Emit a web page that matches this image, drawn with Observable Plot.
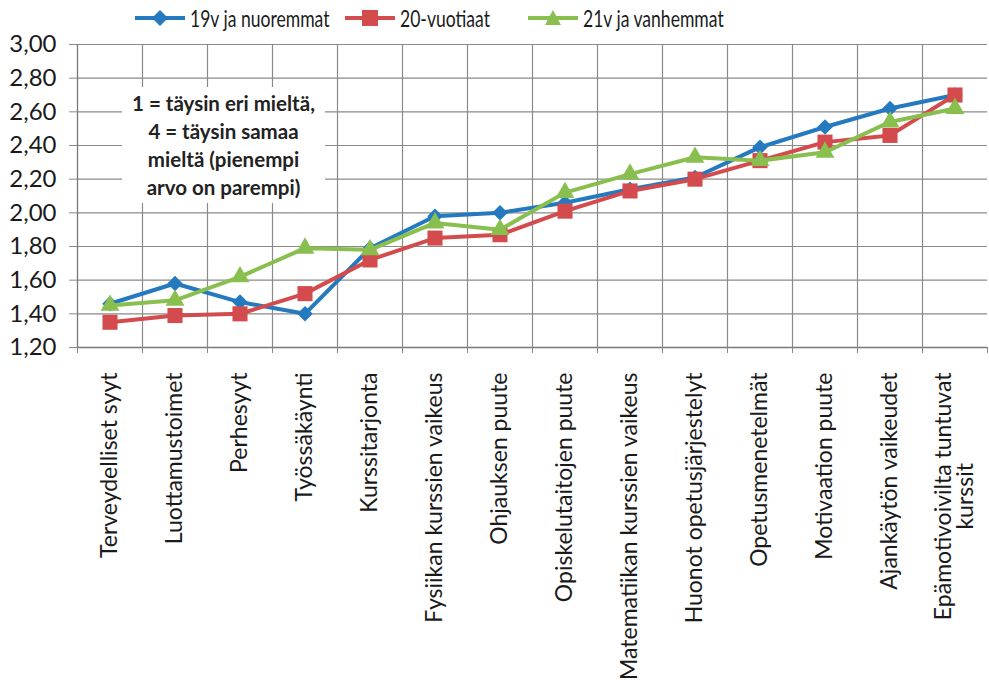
<!DOCTYPE html>
<html>
<head>
<meta charset="utf-8">
<script src="https://cdn.jsdelivr.net/npm/d3@7"></script>
<script src="https://cdn.jsdelivr.net/npm/@observablehq/plot@0.6"></script>
<style>
  html, body { margin: 0; padding: 0; background: #fff; overflow: hidden; }
  body { font-family: Lato, "Open Sans", sans-serif; color: #1a1a1a; width: 989px; height: 697px; position: relative; }
  #legend { height: 36px; position: relative; font-size: 22.5px; }
  .item { position: absolute; top: 0; height: 36px; display: flex; align-items: center; white-space: nowrap; }
  .item svg { margin-right: 5px; flex: none; }
  .item span { display: inline-block; transform: scaleX(0.78); transform-origin: left center; }
  #note { position: absolute; left: 122px; top: 87px; width: 203px; height: 116px; background: #fff;
          text-align: center; font-size: 20.5px; font-weight: 700; line-height: 28px; padding-top: 2px; box-sizing: border-box; color: #222; white-space: nowrap; }
</style>
</head>
<body>
<div id="legend"></div>
<div id="chart"></div>
<div id="note"></div>
<script>
const categories = ["Terveydelliset syyt","Luottamustoimet","Perhesyyt","Työssäkäynti","Kurssitarjonta","Fysiikan kurssien vaikeus","Ohjauksen puute","Opiskelutaitojen puute","Matematiikan kurssien vaikeus","Huonot opetusjärjestelyt","Opetusmenetelmät","Motivaation puute","Ajankäytön vaikeudet","Epämotivoivilta tuntuvat\nkurssit"];
const seriesNames = ["19v ja nuoremmat","20-vuotiaat","21v ja vanhemmat"];
const s19 = [1.46,1.58,1.47,1.40,1.79,1.98,2.00,2.06,2.14,2.21,2.39,2.51,2.62,2.70];
const s20 = [1.35,1.39,1.40,1.52,1.72,1.85,1.87,2.01,2.13,2.20,2.31,2.42,2.46,2.70];
const s21 = [1.45,1.48,1.62,1.79,1.78,1.94,1.90,2.12,2.23,2.33,2.31,2.36,2.54,2.62];
const yTicks = [1.2,1.4,1.6,1.8,2.0,2.2,2.4,2.6,2.8,3.0];
const noteText = ["1 = täysin eri mieltä,","4 = täysin samaa","mieltä (pienempi","arvo on parempi)"];

const colors = ["#2479bf","#d34b4d","#88bf4f"];
const symbols = ["diamond2","square","triangle"];
const radii = [7, 8.5, 7];
const legendLeft = [135, 345, 528];

const series = [s19, s20, s21].map((vals, k) => vals.map((v, i) => ({i, v, s: seriesNames[k]})));

// legend
const legend = document.getElementById("legend");
const symPaths = {
  diamond2: "M25,2 L33,10 L25,18 L17,10 Z",
  square: "M17,2 H33 V18 H17 Z",
  triangle: "M25,2 L33,17 L17,17 Z"
};
seriesNames.forEach((name, k) => {
  const it = document.createElement("div");
  it.className = "item";
  it.style.left = legendLeft[k] + "px";
  it.innerHTML = `<svg width="50" height="20"><line x1="0" x2="50" y1="10" y2="10" stroke="${colors[k]}" stroke-width="4"/><path d="${symPaths[symbols[k]]}" fill="${colors[k]}"/></svg><span>${name}</span>`;
  legend.appendChild(it);
});
document.getElementById("note").innerHTML = noteText.join("<br>");

const fontSize = 23;
const ctx = document.createElement("canvas").getContext("2d");
ctx.font = `${fontSize}px Lato`;
const lastLines = categories[13].split("\n");
const lastCenter = 25 + ctx.measureText(lastLines[0]).width / 2;

const boundaries = d3.range(0.5, 13, 1);
const ticksAll = d3.range(-0.5, 14, 1);
const fmt = d => d.toFixed(2).replace(".", ",");
const gridColor = "#8a8a8a";

const marks = [
  Plot.ruleY(yTicks, {x1: -0.5, x2: 13.5, stroke: gridColor, strokeWidth: 1.2}),
  Plot.ruleX(boundaries, {y1: 1.2, y2: 3.0, stroke: gridColor, strokeWidth: 1.2}),
  Plot.ruleX([-0.5], {y1: 1.2, y2: 3.0, stroke: "#777", strokeWidth: 1.3}),
  Plot.ruleY([1.2], {x1: -0.5, x2: 13.5, stroke: "#777", strokeWidth: 1.3}),
  Plot.axisY({ticks: yTicks, tickFormat: fmt, tickSize: 8, tickPadding: 13, fontSize: 24, label: null, stroke: gridColor, fill: "#1a1a1a"}),
  Plot.axisX({ticks: ticksAll, tickFormat: () => "", tickSize: 6, label: null, stroke: gridColor}),
  Plot.axisX({ticks: d3.range(0, 13), tickFormat: i => categories[i], tickSize: 0, tickPadding: 25, tickRotate: -90, textAnchor: "end", fontSize, label: null, fill: "#1a1a1a"}),
  Plot.text([13], {x: d => d, frameAnchor: "bottom", dy: lastCenter, text: () => categories[13], rotate: -90, textAnchor: "middle", lineAnchor: "middle", lineHeight: 0.98, fontSize, fill: "#1a1a1a"})
];
series.forEach((data, k) => {
  marks.push(Plot.line(data, {x: "i", y: "v", stroke: colors[k], strokeWidth: 4, strokeLinejoin: "round"}));
  marks.push(Plot.dot(data, {x: "i", y: "v", symbol: () => symbols[k], r: radii[k], fill: colors[k], stroke: "none"}));
});

const chart = Plot.plot({
  width: 989,
  height: 661,
  marginTop: 8,
  marginLeft: 77,
  marginRight: 2,
  marginBottom: 350,
  style: {fontFamily: "Lato, 'Open Sans', sans-serif", background: "#fff", overflow: "visible"},
  x: {type: "linear", domain: [-0.5, 13.5], axis: null},
  y: {domain: [1.2, 3.0], axis: null},
  symbol: {type: "identity"},
  marks
});
document.getElementById("chart").appendChild(chart);
</script>
</body>
</html>
